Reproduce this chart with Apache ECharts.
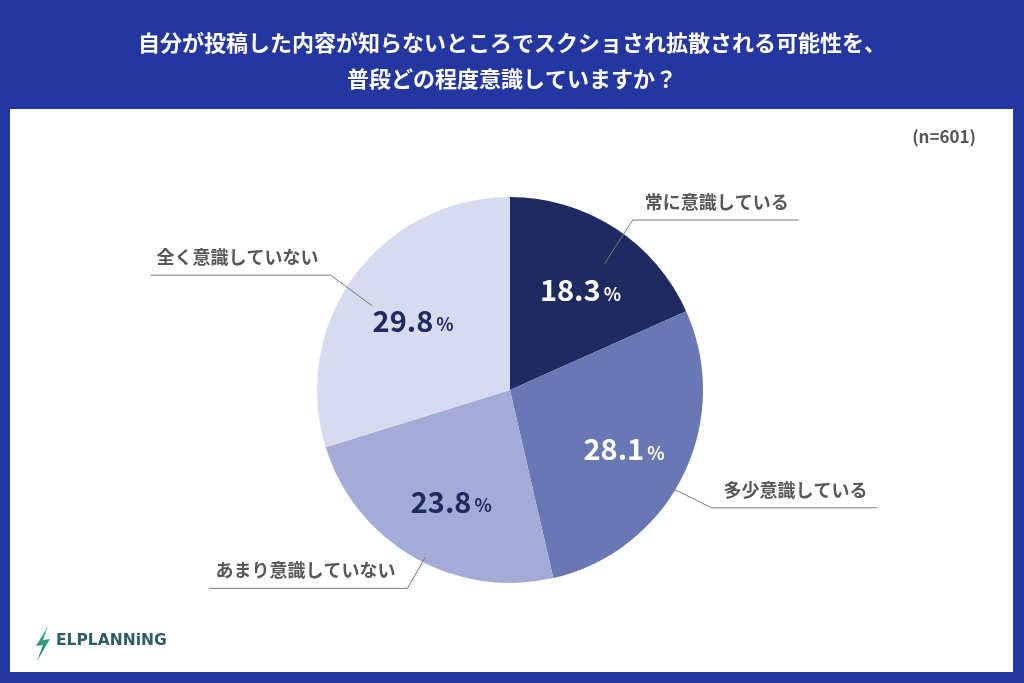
<!DOCTYPE html>
<html>
<head>
<meta charset="utf-8">
<script src="https://cdn.jsdelivr.net/npm/echarts@6/dist/echarts.min.js"></script>
<style>
html,body{margin:0;padding:0;background:#2436a0;}
#main{width:1024px;height:683px;}
</style>
</head>
<body>
<div id="main"></div>
<script>
const titleLines = ['自分が投稿した内容が知らないところでスクショされ拡散される可能性を、', '普段どの程度意識していますか？'];
const sampleNote = '(n=601)';
const categories = ['常に意識している', '多少意識している', 'あまり意識していない', '全く意識していない'];
const values = [18.3, 28.1, 23.8, 29.8];
const sliceColors = ['#1f2a61', '#6a77b5', '#a3abd6', '#d7dbf0'];
const innerLabelColors = ['#ffffff', '#ffffff', '#1f2a61', '#1f2a61'];
const leaderLengths = [52, 52, 36, 52];

const FONT = '"Noto Sans CJK JP", "Noto Sans", sans-serif';
const chart = echarts.init(document.getElementById('main'));
const center = [510, 390];
const leaderCenter = [511, 408];
const innerCenter = [513, 394];

const mainData = categories.map((c, i) => ({ name: c, value: values[i], itemStyle: { color: sliceColors[i] } }));
const innerData = categories.map((c, i) => ({
  name: c, value: values[i],
  itemStyle: { color: 'rgba(0,0,0,0)' },
  label: { rich: {
    v: { fontSize: 29, fontWeight: 'bold', color: innerLabelColors[i], fontFamily: FONT, lineHeight: 32 },
    p: { fontSize: 18, fontWeight: 'bold', color: innerLabelColors[i], fontFamily: FONT, padding: [8, 0, 0, 3] }
  } }
}));
const outerData = categories.map((c, i) => ({
  name: c, value: values[i], itemStyle: { color: 'rgba(0,0,0,0)' },
  labelLine: { length: leaderLengths[i] }
}));

chart.setOption({
  backgroundColor: '#2436a0',
  animation: false,
  title: {
    text: titleLines.join('\n'),
    left: 'center',
    top: 20,
    textStyle: { color: '#ffffff', fontSize: 22, fontWeight: 'bold', lineHeight: 36, fontFamily: FONT }
  },
  graphic: [
    { type: 'rect', z: 0, shape: { x: 10, y: 109, width: 1003, height: 563 }, style: { fill: '#ffffff' } },
    { type: 'text', z: 1, style: { x: 976, y: 137, text: sampleNote, textAlign: 'right', textVerticalAlign: 'middle', fill: '#555555', font: 'bold 17px ' + FONT } },
    { type: 'polygon', z: 1, shape: { points: [[48, 626], [36, 646], [43, 645], [37, 661], [50, 639], [43, 640]] },
      style: { fill: new echarts.graphic.LinearGradient(0, 0, 0, 1, [{ offset: 0, color: '#35c08f' }, { offset: 1, color: '#2a6d70' }]) } },
    { type: 'text', z: 1, style: { x: 56, y: 641, text: 'ELPLANNiNG', textVerticalAlign: 'middle', fill: '#2c5e64', font: 'bold 15.5px "DejaVu Sans", sans-serif' } }
  ],
  series: [
    {
      type: 'pie', center: center, radius: 193, startAngle: 90, clockwise: true,
      silent: true, label: { show: false }, labelLine: { show: false },
      data: mainData
    },
    {
      type: 'pie', center: leaderCenter, radius: 172, startAngle: 90, clockwise: true,
      silent: true, avoidLabelOverlap: false, z: 3,
      label: {
        show: true, position: 'outside',
        formatter: function (p) { return '{n|' + p.name + '}\n{s|}'; },
        distanceToLabelLine: 8,
        rich: {
          n: { color: '#575757', fontSize: 18, fontWeight: 'bold', fontFamily: FONT, lineHeight: 20 },
          s: { fontSize: 10, lineHeight: 36 }
        }
      },
      labelLine: { show: true, length: 52, length2: 4, lineStyle: { color: '#7a7a7a', width: 1 } },
      labelLayout: function (params) {
        const isLeft = params.labelRect.x < center[0];
        const points = params.labelLinePoints;
        points[2][0] = isLeft ? params.labelRect.x - 6 : params.labelRect.x + params.labelRect.width + 10;
        return { labelLinePoints: points };
      },
      data: outerData
    },
    {
      type: 'pie', center: innerCenter, radius: 242, startAngle: 90, clockwise: true,
      silent: true, z: 4,
      label: { show: true, position: 'inside', formatter: function (p) { return '{v|' + p.value.toFixed(1) + '}{p|%}'; } },
      labelLine: { show: false },
      data: innerData
    }
  ]
});
</script>
</body>
</html>
